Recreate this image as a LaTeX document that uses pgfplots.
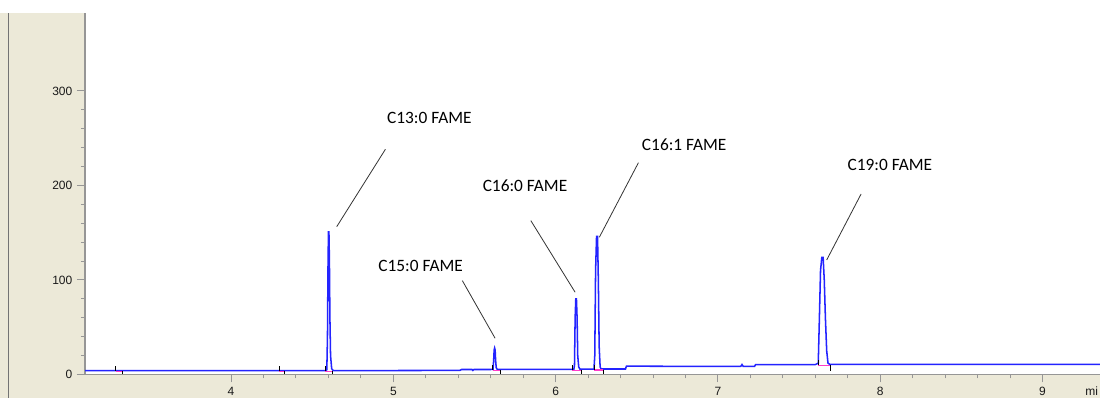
\documentclass[border=0pt]{standalone}
\usepackage{fontspec}
\setmainfont{Liberation Sans}
\newfontfamily\calibri{Carlito}
\usepackage{pgfplots}
\pgfplotsset{compat=1.18}
\definecolor{beige}{RGB}{236,233,216}
\definecolor{trace}{RGB}{35,35,255}
\definecolor{axgray}{RGB}{150,150,150}
\definecolor{pinkm}{RGB}{255,60,200}

\begin{document}
\begin{tikzpicture}
\fill[white] (0pt,0pt) rectangle (825pt,298.5pt);
\fill[beige] (0pt,0pt) rectangle (825pt,288.75pt);
\draw[black!55, line width=0.8pt] (6.4pt,0pt) -- (6.4pt,288.75pt);
\begin{axis}[
  at={(63.75pt,17.625pt)}, anchor=south west,
  scale only axis, width=761.25pt, height=271.125pt,
  xmin=3.100, xmax=9.354, ymin=0, ymax=382.5,
  axis background/.style={fill=white},
  axis x line=bottom, axis y line=left,
  axis line style={-, draw=axgray, line width=0.9pt},
  xtick={4,5,6,7,8,9}, ytick={0,100,200,300},
  minor x tick num=4, minor y tick num=4,
  tick align=outside,
  major tick length=6pt, minor tick length=3pt,
  every tick/.style={axgray, line width=0.75pt},
  tick label style={font=\fontsize{9}{10}\selectfont, text=black!90},
  /pgf/number format/assume math mode=true,
  clip=false,
]
% chromatogram trace
\addplot[trace, line width=1.15pt] coordinates {
(3.100,4.0) (3.50,4.0) (4.00,4.0) (4.50,4.0) (4.585,4.0)
(4.590,5) (4.594,40) (4.597,110) (4.600,150.8) (4.603,150.8) (4.606,120) (4.609,60) (4.613,20) (4.620,6) (4.630,4.2)
(5.00,4.2) (5.41,4.3) (5.42,5.3) (5.485,5.3) (5.490,4.3) (5.496,5.3) (5.60,5.3)
(5.614,5.5) (5.618,15) (5.621,26) (5.624,28) (5.627,26) (5.630,15) (5.634,7) (5.640,5.5)
(6.10,5.5) (6.112,5.6) (6.116,10) (6.120,60) (6.124,80) (6.128,80) (6.132,60) (6.136,20) (6.142,8) (6.150,5.6)
(6.236,5.6) (6.241,20) (6.246,110) (6.252,146) (6.258,146) (6.263,100) (6.268,30) (6.274,8) (6.280,5.8)
(6.430,5.8) (6.436,8.8) (7.140,8.5) (7.148,10.5) (7.156,8.5) (7.225,8.5) (7.232,10.5)
(7.600,10.5) (7.618,12) (7.625,60) (7.632,110) (7.640,124) (7.648,124) (7.655,100) (7.662,60) (7.670,25) (7.678,12) (7.690,10.6)
(8.50,10.7) (9.354,10.8)
};
% integration baseline markers (pink)
\addplot[pinkm, line width=1pt] coordinates {(3.29,3.2) (3.33,3.2)};
\addplot[pinkm, line width=1pt] coordinates {(4.296,3.2) (4.327,3.2)};
\addplot[pinkm, line width=1pt] coordinates {(4.579,3.2) (4.627,3.2)};
\addplot[pinkm, line width=1pt] coordinates {(5.612,4.5) (5.657,4.5)};
\addplot[pinkm, line width=1pt] coordinates {(6.103,4.5) (6.157,4.5)};
\addplot[pinkm, line width=1pt] coordinates {(6.239,4.6) (6.294,4.6)};
\addplot[pinkm, line width=1pt] coordinates {(7.619,9.5) (7.695,9.5)};
% integration start/end ticks (black)
\addplot[black, line width=0.6pt] coordinates {(3.290,4) (3.290,9)};
\addplot[black, line width=0.6pt] coordinates {(3.330,4) (3.330,0.5)};
\addplot[black, line width=0.6pt] coordinates {(4.296,4) (4.296,9)};
\addplot[black, line width=0.6pt] coordinates {(4.327,4) (4.327,0.5)};
\addplot[black, line width=0.6pt] coordinates {(4.579,4) (4.579,9)};
\addplot[black, line width=0.6pt] coordinates {(4.627,4) (4.627,0.5)};
\addplot[black, line width=0.6pt] coordinates {(5.612,5) (5.612,10)};
\addplot[black, line width=0.6pt] coordinates {(5.657,5) (5.657,0.5)};
\addplot[black, line width=0.6pt] coordinates {(6.103,5) (6.103,10)};
\addplot[black, line width=0.6pt] coordinates {(6.157,5) (6.157,0.5)};
\addplot[black, line width=0.6pt] coordinates {(6.239,5) (6.239,10)};
\addplot[black, line width=0.6pt] coordinates {(6.294,5) (6.294,0.5)};
\addplot[black, line width=0.6pt] coordinates {(7.619,10) (7.619,15)};
\addplot[black, line width=0.6pt] coordinates {(7.695,10) (7.695,4)};
% leader lines
\draw[black!80, line width=0.6pt] (axis cs:4.651,156.4) -- (axis cs:4.951,238.3);
\draw[black!80, line width=0.6pt] (axis cs:5.425,99.3) -- (axis cs:5.627,38.3);
\draw[black!80, line width=0.6pt] (axis cs:5.847,162.8) -- (axis cs:6.120,87.0);
\draw[black!80, line width=0.6pt] (axis cs:6.510,224.1) -- (axis cs:6.269,145.2);
\draw[black!80, line width=0.6pt] (axis cs:7.882,191.0) -- (axis cs:7.670,121.2);
% labels
\node[font=\calibri\fontsize{13}{15}\selectfont, inner sep=0pt] at (axis cs:5.222,271.1) {C13:0 FAME};
\node[font=\calibri\fontsize{13}{15}\selectfont, inner sep=0pt] at (axis cs:5.168,114.8) {C15:0 FAME};
\node[font=\calibri\fontsize{13}{15}\selectfont, inner sep=0pt] at (axis cs:5.811,199.5) {C16:0 FAME};
\node[font=\calibri\fontsize{13}{15}\selectfont, inner sep=0pt] at (axis cs:6.792,242.9) {C16:1 FAME};
\node[font=\calibri\fontsize{13}{15}\selectfont, inner sep=0pt] at (axis cs:8.059,221.7) {C19:0 FAME};
\end{axis}
\node[anchor=west, inner sep=0pt, font=\fontsize{9}{10}\selectfont, text=black!90] at (813.75pt,4.9pt) {mi};
\pgfresetboundingbox
\path[use as bounding box] (0pt,0pt) rectangle (825pt,298.5pt);
\end{tikzpicture}
\end{document}
